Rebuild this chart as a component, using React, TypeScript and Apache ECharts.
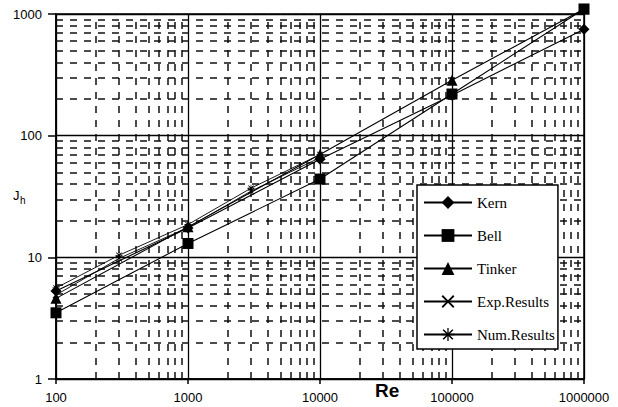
import React, { useEffect, useRef } from "react";
import * as echarts from "echarts";

// Reynolds numbers of the correlation points
const reValues = [100, 1000, 10000, 100000, 1000000];
const kern = [5.3, 17.4, 64, 215, 750];
const bell = [3.5, 13, 44, 220, 1100];
const tinker = [4.6, 17.8, 70, 285, 1100];

// Reynolds numbers of the experimental / numerical points
const resultRe = [100, 300, 1000, 3000, 10000];
const expResults = [4.9, 9.8, 17.6, 35, 66];
const numResults = [5.6, 10.4, 18.6, 37, 70];

// axis ranges and minor grid
const xRange = [100, 1000000];
const yRange = [1, 1000];
const minorSteps = [2, 3, 4, 5, 6, 7, 8, 9];
const xDecades = [100, 1000, 10000, 100000];
const yDecades = [1, 10, 100];

const legendNames = ["Kern", "Bell", "Tinker", "Exp.Results", "Num.Results"];

const crossPath =
  "path://M0,1L1,0L5,4L9,0L10,1L6,5L10,9L9,10L5,6L1,10L0,9L4,5Z";
const starPath =
  "path://M0,1L1,0L5,4L9,0L10,1L6,5L10,9L9,10L5,6L1,10L0,9L4,5Z M4.4,-1H5.6V11H4.4Z M-1,4.4H11V5.6H-1Z";

const pairs = (xs: number[], ys: number[]) => xs.map((x, i) => [x, ys[i]]);

export default function App() {
  const ref = useRef<HTMLDivElement>(null);
  useEffect(() => {
    if (!ref.current) return;
    const chart = echarts.init(ref.current, null, { renderer: "svg" });
    const xMinor: number[] = [];
    xDecades.forEach((d) => minorSteps.forEach((m) => xMinor.push(d * m)));
    const yMinor: number[] = [];
    yDecades.forEach((d) => minorSteps.forEach((m) => yMinor.push(d * m)));

    const lineBase = {
      type: "line" as const,
      clip: false,
      lineStyle: { color: "#000", width: 1.1 },
      itemStyle: { color: "#000" },
      z: 5,
    };

    chart.setOption({
      animation: false,
      backgroundColor: "#fff",
      grid: {
        left: 56,
        right: 34,
        top: 14,
        bottom: 28,
        show: true,
        borderColor: "#000",
        borderWidth: 1.5,
      },
      xAxis: {
        type: "log",
        logBase: 10,
        min: xRange[0],
        max: xRange[1],
        axisLine: { lineStyle: { color: "#000", width: 1.5 } },
        axisTick: { show: true, length: 5, lineStyle: { color: "#000", width: 1.5 } },
        axisLabel: {
          color: "#000",
          fontFamily: "Liberation Sans",
          fontSize: 13,
          margin: 12,
          formatter: (v: number) => String(Math.round(v)),
        },
        splitLine: { show: true, lineStyle: { color: "#000", width: 1.3 } },
      },
      yAxis: {
        type: "log",
        logBase: 10,
        min: yRange[0],
        max: yRange[1],
        axisLine: { lineStyle: { color: "#000", width: 1.5 } },
        axisTick: { show: true, length: 8, lineStyle: { color: "#000", width: 1.5 } },
        axisLabel: {
          color: "#000",
          fontFamily: "Liberation Sans",
          fontSize: 13,
          margin: 14,
          formatter: (v: number) => String(Math.round(v)),
        },
        splitLine: { show: true, lineStyle: { color: "#000", width: 1.3 } },
      },
      legend: {
        data: legendNames,
        orient: "vertical",
        left: 417,
        top: 185,
        z: 30,
        itemWidth: 48,
        itemHeight: 16,
        itemGap: 18,
        padding: [10, 3, 7, 6],
        backgroundColor: "#fff",
        borderColor: "#000",
        borderWidth: 1.5,
        textStyle: { color: "#000", fontFamily: "Liberation Serif", fontSize: 15 },
      },
      graphic: [
        {
          type: "text",
          left: 375,
          top: 381,
          style: { text: "Re", font: "bold 19px Liberation Sans", fill: "#000" },
        },
        {
          type: "text",
          left: 13,
          top: 189,
          style: { text: "J", font: "13px Liberation Sans", fill: "#000" },
        },
        {
          type: "text",
          left: 20,
          top: 195,
          style: { text: "h", font: "10px Liberation Sans", fill: "#000" },
        },
      ],
      series: [
        {
          type: "line",
          data: [],
          silent: true,
          z: 1,
          markLine: {
            silent: true,
            symbol: ["none", "none"],
            label: { show: false },
            lineStyle: { color: "#111", width: 1.5, type: [7, 7] },
            data: [
              ...xMinor.map((v) => ({ xAxis: v })),
              ...yMinor.map((v) => ({ yAxis: v })),
            ],
          },
        },
        {
          ...lineBase,
          name: "Kern",
          symbol: "diamond",
          symbolSize: 11,
          data: pairs(reValues, kern),
        },
        {
          ...lineBase,
          name: "Bell",
          symbol: "rect",
          symbolSize: 11,
          data: pairs(reValues, bell),
        },
        {
          ...lineBase,
          name: "Tinker",
          symbol: "triangle",
          symbolSize: 11,
          data: pairs(reValues, tinker),
        },
        {
          ...lineBase,
          name: "Exp.Results",
          symbol: crossPath,
          symbolSize: 7,
          lineStyle: { color: "#000", width: 0.9 },
          data: pairs(resultRe, expResults),
        },
        {
          ...lineBase,
          name: "Num.Results",
          symbol: starPath,
          symbolSize: 7,
          lineStyle: { color: "#000", width: 0.9 },
          data: pairs(resultRe, numResults),
        },
      ],
    });
    return () => chart.dispose();
  }, []);
  return (
    <div
      ref={ref}
      style={{ position: "fixed", left: 0, top: 0, width: 618, height: 407 }}
    />
  );
}
